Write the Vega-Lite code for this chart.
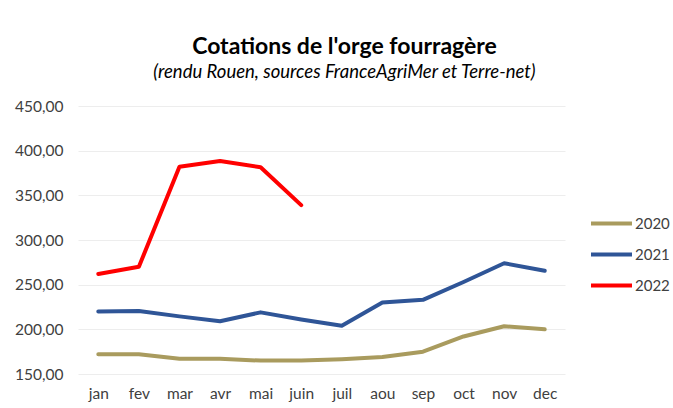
{
  "$schema": "https://vega.github.io/schema/vega-lite/v6.json",
  "width": 487,
  "height": 268,
  "autosize": {"type": "none"},
  "padding": {"left": 78, "top": 106, "right": 108, "bottom": 34},
  "background": "white",
  "config": {
    "locale": {"number": {"decimal": ",", "thousands": " ", "grouping": [3], "currency": ["", " €"]}},
    "font": "Lato",
    "view": {"stroke": null}
  },
  "title": {
    "text": "Cotations de l'orge fourragère",
    "subtitle": "(rendu Rouen, sources FranceAgriMer et Terre-net)",
    "anchor": "middle",
    "dx": 23,
    "offset": 18,
    "font": "Lato",
    "fontSize": 23,
    "fontWeight": "bold",
    "color": "#000000",
    "subtitleFont": "Lato",
    "subtitleFontSize": 18.5,
    "subtitleFontStyle": "italic",
    "subtitleColor": "#000000",
    "subtitlePadding": 4
  },
  "data": {
    "values": [
      {"mois": "jan", "annee": "2020", "prix": 172},
      {"mois": "fev", "annee": "2020", "prix": 172},
      {"mois": "mar", "annee": "2020", "prix": 167},
      {"mois": "avr", "annee": "2020", "prix": 167},
      {"mois": "mai", "annee": "2020", "prix": 165},
      {"mois": "juin", "annee": "2020", "prix": 165},
      {"mois": "juil", "annee": "2020", "prix": 166.5},
      {"mois": "aou", "annee": "2020", "prix": 169},
      {"mois": "sep", "annee": "2020", "prix": 175},
      {"mois": "oct", "annee": "2020", "prix": 192},
      {"mois": "nov", "annee": "2020", "prix": 203.5},
      {"mois": "dec", "annee": "2020", "prix": 200},
      {"mois": "jan", "annee": "2021", "prix": 220},
      {"mois": "fev", "annee": "2021", "prix": 220.5},
      {"mois": "mar", "annee": "2021", "prix": 214.5},
      {"mois": "avr", "annee": "2021", "prix": 209},
      {"mois": "mai", "annee": "2021", "prix": 219},
      {"mois": "juin", "annee": "2021", "prix": 211},
      {"mois": "juil", "annee": "2021", "prix": 204},
      {"mois": "aou", "annee": "2021", "prix": 230},
      {"mois": "sep", "annee": "2021", "prix": 233},
      {"mois": "oct", "annee": "2021", "prix": 253},
      {"mois": "nov", "annee": "2021", "prix": 274},
      {"mois": "dec", "annee": "2021", "prix": 265.5},
      {"mois": "jan", "annee": "2022", "prix": 262},
      {"mois": "fev", "annee": "2022", "prix": 270},
      {"mois": "mar", "annee": "2022", "prix": 382},
      {"mois": "avr", "annee": "2022", "prix": 388.5},
      {"mois": "mai", "annee": "2022", "prix": 381.5},
      {"mois": "juin", "annee": "2022", "prix": 339}
    ]
  },
  "mark": {"type": "line", "strokeWidth": 4, "strokeCap": "round", "strokeJoin": "round"},
  "encoding": {
    "x": {
      "field": "mois",
      "type": "nominal",
      "sort": ["jan", "fev", "mar", "avr", "mai", "juin", "juil", "aou", "sep", "oct", "nov", "dec"],
      "title": null,
      "axis": {
        "labelAngle": 0,
        "domain": false,
        "ticks": false,
        "labelFontSize": 15.5,
        "labelColor": "#404040",
        "labelPadding": 12,
        "grid": false
      }
    },
    "y": {
      "field": "prix",
      "type": "quantitative",
      "title": null,
      "scale": {"domain": [150, 450], "zero": false, "nice": false},
      "axis": {
        "values": [150, 200, 250, 300, 350, 400, 450],
        "format": ".2f",
        "domain": false,
        "ticks": false,
        "labelFontSize": 15.5,
        "labelColor": "#404040",
        "labelPadding": 15,
        "gridColor": "#EDEDED",
        "gridWidth": 1
      }
    },
    "color": {
      "field": "annee",
      "type": "nominal",
      "title": null,
      "scale": {"domain": ["2020", "2021", "2022"], "range": ["#A99B5E", "#2F5597", "#FF0000"]},
      "legend": {
        "orient": "none",
        "legendX": 511,
        "legendY": 95,
        "symbolType": "stroke",
        "symbolSize": 1681,
        "symbolStrokeWidth": 4,
        "labelFontSize": 15,
        "labelColor": "#404040",
        "labelOffset": 1,
        "rowPadding": 0
      }
    }
  }
}
